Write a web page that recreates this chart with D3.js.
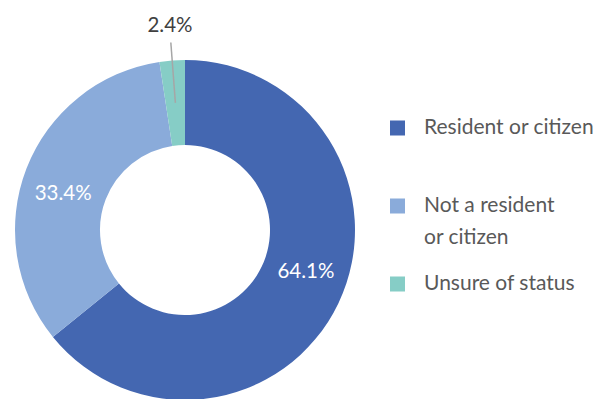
<!DOCTYPE html>
<html>
<head>
<meta charset="utf-8">
<script src="https://cdn.jsdelivr.net/npm/d3@7"></script>
<style>
  html, body { margin: 0; padding: 0; background: #fff; }
  svg { display: block; }
  text { font-family: "Lato", "Open Sans", sans-serif; font-weight: 400; }
</style>
</head>
<body>
<svg id="chart" width="602" height="399"></svg>
<script>
// Residency status of respondents (percent)
const categories = ["Resident or citizen", "Not a resident or citizen", "Unsure of status"];
const legendLines = [["Resident or citizen"], ["Not a resident", "or citizen"], ["Unsure of status"]];
const values = [64.1, 33.4, 2.4];
const labels = ["64.1%", "33.4%", "2.4%"];
const colors = ["#4467b1", "#8aabda", "#86cdc6"];

const svg = d3.select("#chart");
const cx = 185, cy = 230, outerR = 170, innerR = 85;

const pie = d3.pie().sort(null).value(d => d);
const arcs = pie(values);
const arc = d3.arc().innerRadius(innerR).outerRadius(outerR);

const g = svg.append("g").attr("transform", `translate(${cx},${cy})`);

g.selectAll("path.slice")
  .data(arcs)
  .join("path")
  .attr("class", "slice")
  .attr("d", arc)
  .attr("fill", (d, i) => colors[i]);

// polar helper: angle measured clockwise from 12 o'clock
const polar = (a, r) => [r * Math.sin(a), -r * Math.cos(a)];
const mid = d => (d.startAngle + d.endAngle) / 2;
const deg = Math.PI / 180;

// inside labels for the two large slices (nudged toward best fit)
const nudge = [-7 * deg, -4 * deg];
arcs.slice(0, 2).forEach((d, i) => {
  const [x, y] = polar(mid(d) + nudge[i], 127.5);
  g.append("text")
    .attr("x", x).attr("y", y)
    .attr("dy", "0.35em")
    .attr("text-anchor", "middle")
    .attr("fill", "#ffffff")
    .attr("font-size", 20.5)
    .text(labels[i]);
});

// small slice: label outside with a leader line
{
  const d = arcs[2];
  const a = mid(d);
  const [x1, y1] = polar(a, 127.5);
  const [x2, y2] = polar(a, 188);
  g.append("line")
    .attr("x1", x1).attr("y1", y1)
    .attr("x2", x2).attr("y2", y2)
    .attr("stroke", "#a6a6a6")
    .attr("stroke-width", 1.5);
  const [tx, ty] = polar(a, 199);
  g.append("text")
    .attr("x", tx).attr("y", ty)
    .attr("text-anchor", "middle")
    .attr("fill", "#404040")
    .attr("font-size", 20.5)
    .text(labels[2]);
}

// legend
const legendRows = [128, 206, 284];
const lg = svg.append("g");
categories.forEach((c, i) => {
  const y = legendRows[i];
  lg.append("rect")
    .attr("x", 390).attr("y", y - 7.5)
    .attr("width", 15).attr("height", 15)
    .attr("fill", colors[i]);
  legendLines[i].forEach((line, j) => {
    lg.append("text")
      .attr("x", 424).attr("y", y + 6 + j * 32)
      .attr("fill", "#595959")
      .attr("font-size", 21)
      .text(line);
  });
});
</script>
</body>
</html>
